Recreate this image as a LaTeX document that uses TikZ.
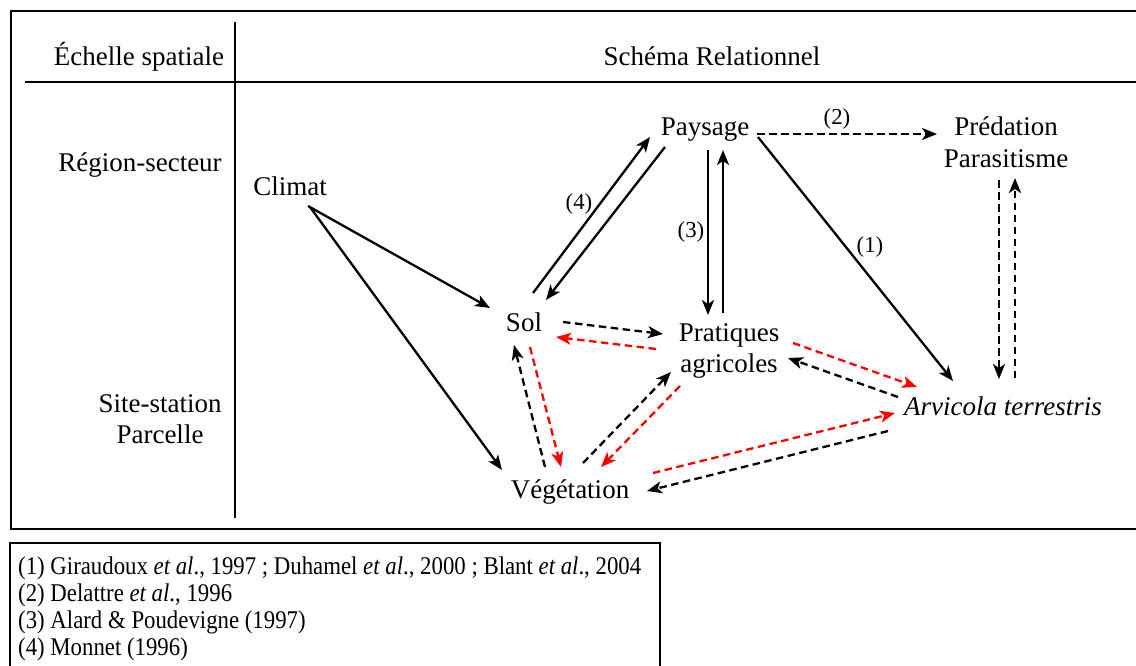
\documentclass[tikz,border=0pt]{standalone}
\usepackage{graphicx}
\usepackage{fontspec}
\setmainfont{Liberation Serif}
\usetikzlibrary{arrows.meta}
\begin{document}
\begin{tikzpicture}[x=1pt,y=-1pt,
  txt/.style={anchor=base,inner sep=0pt,font=\fontsize{27}{31}\selectfont},
  lbl/.style={inner sep=0pt,font=\fontsize{22.8}{26}\selectfont},
  leg/.style={anchor=base west,inner sep=0pt,font=\fontsize{25.5}{27}\selectfont},
  frame/.style={line width=2pt},
  sarr/.style={line width=2.3pt,-{Stealth[length=15pt,width=12pt,inset=4pt]}},
  darr/.style={line width=2.3pt,dash pattern=on 7.5pt off 4.5pt,-{Stealth[length=15pt,width=12pt,inset=4pt]}},
  rarr/.style={darr,draw=red,color=red}]
\useasboundingbox (0,0) rectangle (1136,665);
\fill[white] (0,0) rectangle (1136,665);
% frames
\draw[frame] (1145,11) -- (11,11) -- (11,529) -- (1145,529);
\draw[line width=1.5pt] (25,82) -- (1145,82);
\draw[line width=1.5pt] (235,22) -- (235,518);
\draw[frame] (10,675) -- (10,543) -- (660,543) -- (660,675);
% headers
\node[txt] (echelle) at (139,65) {Échelle spatiale};
\node[txt] (schema) at (712,65) {Schéma Relationnel};
\node[txt] (region) at (140,171) {Région-secteur};
\node[txt] (site) at (160,412) {Site-station};
\node[txt] (parcelle) at (160,443) {Parcelle};
% nodes
\node[txt] (climat) at (290,195) {Climat};
\node[txt] (paysage) at (705,135) {Paysage};
\node[txt] (predation) at (1006,135) {Prédation};
\node[txt] (parasitisme) at (1006,167) {Parasitisme};
\node[txt] (sol) at (524,331) {Sol};
\node[txt] (pratiques) at (729,341) {Pratiques};
\node[txt] (agricoles) at (729,372) {agricoles};
\node[txt] (arvicola) at (1003,415) {\itshape Arvicola terrestris};
\node[txt] (vegetation) at (570,498) {Végétation};
% labels
\node[lbl] (l1) at (870,247) {(1)};
\node[lbl] (l2) at (837,119) {(2)};
\node[lbl] (l3) at (691,232) {(3)};
\node[lbl] (l4) at (579,204) {(4)};
% solid arrows
\draw[sarr] ([shift={(18,11)}]climat.base) -- ([shift={(-34,-23)}]sol.base);
\draw[sarr] ([shift={(20,12)}]climat.base) -- ([shift={(-68,-28)}]vegetation.base);
\draw[sarr] ([shift={(9,-38)}]sol.base) -- ([shift={(-55,2)}]paysage.base);
\draw[sarr] ([shift={(-40,12)}]paysage.base) -- ([shift={(22,-31)}]sol.base);
\draw[sarr] ([shift={(3,15)}]paysage.base) -- ([shift={(-21,-26)}]pratiques.base);
\draw[sarr] ([shift={(-6,-28)}]pratiques.base) -- ([shift={(18,15)}]paysage.base);
\draw[sarr] ([shift={(53,2)}]paysage.base) -- ([shift={(-50,-34)}]arvicola.base);
% black dashed
\draw[darr] ([shift={(52,-1)}]paysage.base) -- ([shift={(-69,-1)}]predation.base);
\draw[darr] ([shift={(-7,13)}]parasitisme.base) -- ([shift={(-4,-36)}]arvicola.base);
\draw[darr] ([shift={(12,-37)}]arvicola.base) -- ([shift={(9,11)}]parasitisme.base);
\draw[darr] ([shift={(39,-9)}]sol.base) -- ([shift={(-66,-7)}]pratiques.base);
\draw[darr] ([shift={(-25,-31)}]vegetation.base) -- ([shift={(-10,14)}]sol.base);
\draw[darr] ([shift={(13,-35)}]vegetation.base) -- ([shift={(-58,0)}]agricoles.base);
\draw[darr] ([shift={(-105,-18)}]arvicola.base) -- ([shift={(59,-14)}]agricoles.base);
\draw[darr] ([shift={(-115,16)}]arvicola.base) -- ([shift={(77,-7)}]vegetation.base);
% red dashed
\draw[rarr] ([shift={(-73,8)}]pratiques.base) -- ([shift={(32,6)}]sol.base);
\draw[rarr] ([shift={(6,16)}]sol.base) -- ([shift={(-9,-31)}]vegetation.base);
\draw[rarr] ([shift={(-49,14)}]agricoles.base) -- ([shift={(31,-31)}]vegetation.base);
\draw[rarr] ([shift={(64,2)}]pratiques.base) -- ([shift={(-86,-28)}]arvicola.base);
\draw[rarr] ([shift={(83,-25)}]vegetation.base) -- ([shift={(-108,-2)}]arvicola.base);
% legend
\node[leg] (ref1) at (18,574) {\scalebox{0.894}[1]{(1) Giraudoux \textit{et al}., 1997 ; Duhamel \textit{et al}., 2000 ; Blant \textit{et al}., 2004}};
\node[leg] (ref2) at (18,601) {\scalebox{0.894}[1]{(2) Delattre \textit{et al}., 1996}};
\node[leg] (ref3) at (18,628) {\scalebox{0.894}[1]{(3) Alard \& Poudevigne (1997)}};
\node[leg] (ref4) at (18,655) {\scalebox{0.894}[1]{(4) Monnet (1996)}};
\end{tikzpicture}
\end{document}
